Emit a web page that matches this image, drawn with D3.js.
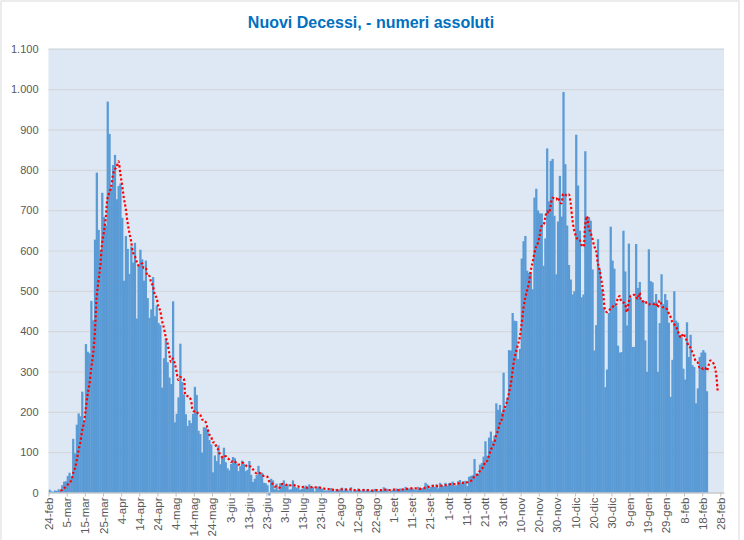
<!DOCTYPE html>
<html>
<head>
<meta charset="utf-8">
<script src="https://cdn.jsdelivr.net/npm/d3@7"></script>
<style>
body { margin: 0; background: #fff; }
svg { display: block; font-family: "Liberation Sans", Arial, sans-serif; }
</style>
</head>
<body>
<script>

// nuovi decessi giornalieri, dal 24 feb 2020 al 20 feb 2021
var feb2020 = [7, 3, 2, 5, 4, 8];
var mar2020 = [5, 18, 27, 28, 41, 49, 36, 133, 97, 168, 196, 189, 250, 175, 368, 349, 345, 475, 427, 627, 793, 651, 601, 743, 683, 662, 969, 889, 756, 812, 837];
var apr2020 = [727, 760, 766, 681, 525, 636, 604, 542, 610, 570, 619, 431, 566, 602, 578, 525, 575, 482, 433, 454, 534, 437, 464, 420, 415, 260, 333, 382, 323, 285];
var mag2020 = [269, 474, 174, 195, 236, 369, 274, 243, 194, 165, 179, 172, 195, 262, 242, 153, 145, 99, 162, 161, 156, 130, 119, 50, 92, 78, 117, 70, 87, 111, 75];
var giu2020 = [60, 55, 71, 88, 85, 72, 53, 65, 79, 71, 53, 56, 78, 44, 26, 34, 43, 66, 47, 49, 24, 23, 18, -31, 34, 30, 8, 22, 6, 23];
var lug2020 = [21, 30, 15, 21, 7, 8, 30, 15, 12, 12, 7, 9, 13, 17, 13, 20, 11, 14, 3, 13, 15, 9, 10, 5, 5, 5, 5, 11, 6, 3, 9];
var ago2020 = [5, 8, 12, 5, 10, 6, 3, 13, 2, 4, 6, 10, 6, 3, 9, 4, 7, 4, 5, 6, 9, 7, 4, 4, 4, 13, 9, 9, 1, 4, 6];
var set2020 = [6, 10, 6, 10, 7, 9, 14, 10, 10, 10, 10, 7, 6, 14, 9, 11, 10, 24, 20, 10, 14, 20, 14, 20, 10, 24, 17, 16, 24, 17];
var ott2020 = [23, 24, 27, 17, 18, 28, 31, 22, 28, 29, 16, 39, 41, 43, 83, 47, 47, 69, 73, 89, 127, 91, 136, 151, 128, 141, 221, 205, 217, 199, 297];
var nov2020 = [208, 233, 353, 352, 445, 426, 425, 331, 356, 580, 623, 636, 550, 544, 546, 504, 731, 753, 699, 692, 692, 562, 630, 853, 722, 822, 827, 686, 541, 672];
var dic2020 = [785, 684, 993, 814, 662, 564, 528, 491, 499, 887, 761, 649, 484, 491, 846, 680, 683, 674, 553, 352, 415, 628, 553, 505, 459, 261, 305, 445, 659, 575, 555];
var gen2021 = [462, 364, 347, 348, 649, 548, 414, 617, 483, 361, 361, 616, 507, 522, 477, 475, 377, 299, 603, 524, 521, 472, 492, 299, 420, 541, 467, 492, 477, 421, 237];
var feb2021 = [329, 499, 426, 421, 391, 385, 307, 280, 422, 336, 391, 316, 311, 221, 258, 336, 347, 353, 347, 251];

// media mobile (linea rossa), dal 1 mar 2020 al 26 feb 2021
var mediaMar2020 = [5, 6, 10, 14, 19, 25, 29, 47, 59, 79, 103, 124, 153, 173, 206, 242, 267, 307, 341, 395, 483, 524, 560, 617, 646, 680, 729, 743, 758, 788, 801];
var mediaApr2020 = [807, 821, 792, 763, 730, 705, 671, 645, 623, 595, 587, 573, 563, 563, 568, 556, 557, 537, 537, 521, 512, 491, 483, 461, 451, 426, 409, 387, 371, 345];
var mediaMag2020 = [324, 332, 320, 300, 279, 286, 284, 281, 241, 239, 237, 228, 203, 201, 201, 195, 193, 181, 180, 175, 160, 144, 139, 125, 124, 112, 106, 94, 88, 86, 90];
var mediaGiu2020 = [85, 82, 76, 78, 78, 72, 69, 70, 73, 73, 68, 64, 65, 64, 58, 52, 48, 50, 48, 44, 41, 41, 39, 28, 23, 21, 15, 15, 12, 13];
var mediaLug2020 = [21, 20, 18, 20, 18, 18, 19, 18, 15, 15, 13, 13, 14, 12, 12, 13, 13, 14, 13, 13, 13, 12, 11, 10, 9, 9, 8, 7, 7, 6, 6];
var mediaAgo2020 = [6, 7, 8, 7, 7, 8, 7, 8, 7, 6, 6, 6, 6, 6, 6, 6, 6, 6, 5, 5, 6, 6, 6, 6, 6, 7, 7, 7, 6, 6, 7];
var mediaSet2020 = [7, 6, 6, 6, 7, 8, 9, 9, 9, 10, 10, 10, 10, 10, 9, 10, 10, 12, 13, 14, 14, 16, 16, 17, 15, 16, 17, 17, 18, 18];
var mediaOtt2020 = [19, 21, 21, 21, 21, 22, 24, 24, 24, 25, 25, 28, 29, 31, 40, 43, 45, 53, 58, 64, 76, 78, 90, 105, 114, 123, 142, 153, 171, 180, 201];
var mediaNov2020 = [213, 226, 245, 266, 298, 331, 349, 366, 384, 416, 455, 482, 500, 517, 548, 569, 591, 609, 618, 638, 660, 662, 680, 697, 693, 710, 730, 729, 726, 732];
var mediaDic2020 = [722, 717, 741, 739, 736, 739, 719, 677, 650, 635, 627, 626, 614, 609, 660, 685, 656, 644, 630, 611, 600, 569, 551, 526, 495, 453, 447, 451, 455, 458, 466];
var mediaGen2021 = [466, 481, 487, 473, 471, 468, 447, 470, 487, 489, 490, 486, 480, 495, 475, 474, 476, 468, 466, 468, 468, 467, 470, 459, 476, 467, 459, 455, 455, 445, 436];
var mediaFeb2021 = [423, 417, 412, 401, 389, 384, 394, 387, 376, 363, 359, 348, 338, 325, 322, 310, 311, 306, 310, 302, 315, 327, 325, 317, 299, 251];
var mediaStart = 6; // 1-mar e' il giorno 6

var tickLabels = ["24-feb", "5-mar", "15-mar", "25-mar", "4-apr", "14-apr", "24-apr", "4-mag", "14-mag", "24-mag",
    "3-giu", "13-giu", "23-giu", "3-lug", "13-lug", "23-lug", "2-ago", "12-ago", "22-ago", "1-set",
    "11-set", "21-set", "1-ott", "11-ott", "21-ott", "31-ott", "10-nov", "20-nov", "30-nov", "10-dic",
    "20-dic", "30-dic", "9-gen", "19-gen", "29-gen", "8-feb", "18-feb", "28-feb"];
var yTicks = [0, 100, 200, 300, 400, 500, 600, 700, 800, 900, 1000, 1100];

var decessi = [].concat(feb2020, mar2020, apr2020, mag2020, giu2020, lug2020, ago2020,
    set2020, ott2020, nov2020, dic2020, gen2021, feb2021);
var media = [].concat(mediaMar2020, mediaApr2020, mediaMag2020, mediaGiu2020, mediaLug2020, mediaAgo2020,
    mediaSet2020, mediaOtt2020, mediaNov2020, mediaDic2020, mediaGen2021, mediaFeb2021);

var width = 744,
    height = 540;

var plot = {left: 48.5, right: 724, top: 48.8, bottom: 492.5};

var svg = d3.select("body").append("svg")
    .attr("width", width)
    .attr("height", height);

// chart border
svg.append("rect")
    .attr("x", 1)
    .attr("y", 1)
    .attr("width", 738)
    .attr("height", 560)
    .attr("fill", "#fff")
    .attr("stroke", "#d9d9d9");

var x = d3.scaleLinear()
    .domain([0, 372])
    .range([plot.left, plot.right]);

var y = d3.scaleLinear()
    .domain([0, 1100])
    .range([plot.bottom, plot.top]);

var it = d3.formatLocale({decimal: ",", thousands: ".", grouping: [3], currency: ["€", ""]});

// plot area background
svg.append("rect")
    .attr("x", plot.left)
    .attr("y", plot.top - 0.5)
    .attr("width", plot.right - plot.left)
    .attr("height", plot.bottom - plot.top + 0.5)
    .attr("fill", "#dde8f4");

// gridlines + y labels
var yAxis = svg.append("g")
    .attr("transform", "translate(" + plot.left + ",0)")
    .call(d3.axisLeft(y)
        .tickValues(yTicks)
        .tickSize(-(plot.right - plot.left))
        .tickPadding(10)
        .tickFormat(it.format(",d")));

yAxis.select(".domain").remove();
yAxis.selectAll(".tick line")
    .attr("stroke", "#d5d8dc")
    .attr("stroke-width", 1.2);
yAxis.selectAll(".tick text")
    .attr("fill", "#595959")
    .style("font-size", "11px")
    .style("font-family", "'Liberation Sans', Arial, sans-serif");

svg.append("clipPath")
    .attr("id", "clip")
    .append("rect")
    .attr("x", plot.left)
    .attr("y", plot.top - 1)
    .attr("width", plot.right - plot.left)
    .attr("height", plot.bottom - plot.top + 4);

// bars (a little overlap so no seams show between neighbours)
svg.append("g")
    .attr("clip-path", "url(#clip)")
    .selectAll("rect")
    .data(decessi)
    .enter()
    .append("rect")
    .attr("x", function(d, i) { return x(i); })
    .attr("width", function(d, i) { return x(i + 1) - x(i) + 0.45; })
    .attr("y", function(d) { return Math.min(y(d), y(0)); })
    .attr("height", function(d) { return Math.abs(y(0) - y(d)); })
    .attr("fill", "#5b9bd5");

// x axis
var xAxis = svg.append("g")
    .attr("transform", "translate(0," + plot.bottom + ")")
    .call(d3.axisBottom(x)
        .tickValues(d3.range(tickLabels.length).map(function(i) { return i * 10; }))
        .tickSize(4)
        .tickSizeOuter(0)
        .tickFormat(function(d, i) { return tickLabels[i]; }));

xAxis.select(".domain").attr("stroke", "#bfbfbf");
xAxis.selectAll(".tick line").attr("stroke", "#bfbfbf");
xAxis.selectAll(".tick text")
    .attr("fill", "#595959")
    .style("font-size", "11.5px")
    .style("font-family", "'Liberation Sans', Arial, sans-serif")
    .attr("text-anchor", "end")
    .attr("transform", "rotate(-90)")
    .attr("x", -5)
    .attr("y", 0)
    .attr("dy", "0.35em");

// red dotted moving average
var line = d3.line()
    .x(function(d, i) { return x(mediaStart + i + 0.5); })
    .y(function(d) { return y(d); })
    .curve(d3.curveCatmullRom);

svg.append("path")
    .datum(media)
    .attr("d", line)
    .attr("fill", "none")
    .attr("stroke", "#ff0000")
    .attr("stroke-width", 2.2)
    .attr("stroke-dasharray", "2.2,2.2");

// title
svg.append("text")
    .attr("x", 371)
    .attr("y", 28)
    .attr("text-anchor", "middle")
    .attr("fill", "#0070c0")
    .style("font-size", "16px")
    .style("font-weight", "bold")
    .text("Nuovi Decessi, - numeri assoluti");

</script>
</body>
</html>
